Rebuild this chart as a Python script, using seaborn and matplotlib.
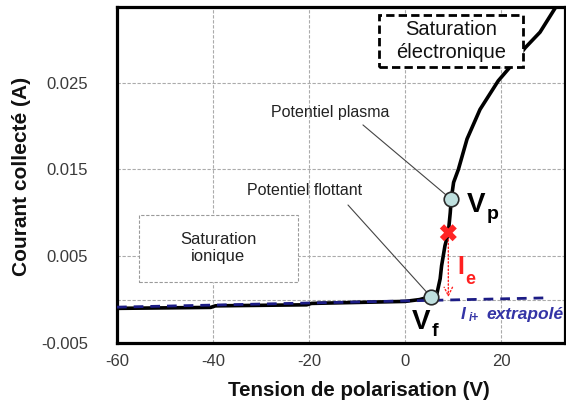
import matplotlib
matplotlib.use("Agg")
import matplotlib.pyplot as plt
from matplotlib.patches import Rectangle
import seaborn as sns
import pandas as pd

# Caractéristique I(V) de la sonde de Langmuir
tension = [-60, -40.5, -39.5, -20.5, -19.5, 0, 3, 5.2, 6.6, 7.3, 7.6, 8.3,
           9.0, 9.4, 9.6, 10.1, 11.1, 12.9, 15.6, 19.4, 22.5, 25.0, 28.1, 31.5]
courant = [-0.00101, -0.00090, -0.00072, -0.00060, -0.00044, -0.00021, 0.0000,
           0.00032, 0.00063, 0.0024, 0.0039, 0.0062, 0.0077, 0.0100, 0.01155,
           0.0135, 0.0150, 0.0185, 0.0219, 0.0252, 0.0272, 0.0290, 0.0308, 0.0338]

# Droite du courant ionique extrapolé
tension_ion = [-60, 29.6]
courant_ion = [-0.00087, 0.0002]

# Points remarquables
v_flottant, i_flottant = 5.4, 0.0003
v_plasma, i_plasma = 9.6, 0.01155
v_ie, i_ie = 9.0, 0.0077

xticks = [-60, -40, -20, 0, 20]
yticks = [-0.005, 0.005, 0.015, 0.025]
ygrid = [0.0, 0.005, 0.015, 0.025]
xgrid = [-40, -20, 0, 20]

sns.set_theme(style="white")
plt.rcParams["font.family"] = ["Liberation Sans", "DejaVu Sans"]
plt.rcParams["axes.unicode_minus"] = False

fig = plt.figure(figsize=(5.66, 4.05), dpi=100)
W, H = 566, 405
ax = fig.add_axes([117 / W, 1 - 343 / H, (565 - 117) / W, (343 - 7) / H])

# Quadrillage pointillé
for g in xgrid:
    ax.axvline(g, color="#ababab", lw=0.8, ls=(0, (3, 1.5)), zorder=0)
for g in ygrid:
    ax.axhline(g, color="#ababab", lw=0.8, ls=(0, (3, 1.5)), zorder=0)

df = pd.DataFrame({"V": tension, "I": courant})
sns.lineplot(data=df, x="V", y="I", sort=False, estimator=None, color="black",
             lw=2.6, ax=ax, zorder=3)
dfi = pd.DataFrame({"V": tension_ion, "I": courant_ion})
sns.lineplot(data=dfi, x="V", y="I", sort=False, estimator=None, color="#1c1c85",
             lw=2.0, linestyle=(0, (3.5, 2.5)), ax=ax, zorder=4)

# Flèche du courant électronique
ax.annotate("", xy=(v_ie, 0.00028), xytext=(v_ie, 0.0069),
            arrowprops=dict(arrowstyle="->,head_width=0.25,head_length=0.5",
                            color="#ff2020", lw=1.0, ls=":", shrinkA=0, shrinkB=0),
            zorder=5)
sns.scatterplot(x=[v_ie], y=[i_ie], marker="X", s=150, color="#ff2424",
                edgecolor="none", ax=ax, zorder=6)

# Traits de rappel
ax.annotate("", xy=(v_plasma, i_plasma), xytext=(0.549, 0.649),
            textcoords="axes fraction",
            arrowprops=dict(arrowstyle="-", color="#444444", lw=0.8,
                            shrinkA=0, shrinkB=5), zorder=5)
ax.annotate("", xy=(v_flottant, i_flottant), xytext=(0.5156, 0.4107),
            textcoords="axes fraction",
            arrowprops=dict(arrowstyle="-", color="#444444", lw=0.8,
                            shrinkA=0, shrinkB=5), zorder=5)

sns.scatterplot(x=[v_flottant, v_plasma], y=[i_flottant, i_plasma], s=110,
                color="#bfe0df", edgecolor="#2a2a2a", linewidth=1.2, ax=ax,
                zorder=7)

# Encadrés
ax.add_patch(Rectangle((0.585, 0.821), 0.321, 0.155, transform=ax.transAxes,
                       facecolor="white", edgecolor="black", lw=2.0,
                       ls=(0, (3, 1.5)), zorder=8))
ax.text(0.7455, 0.899, "Saturation\nélectronique", transform=ax.transAxes,
        ha="center", va="center", fontsize=14.5, linespacing=1.3,
        color="#111111", zorder=9)

ax.add_patch(Rectangle((0.049, 0.1815), 0.355, 0.1995, transform=ax.transAxes,
                       facecolor="white", edgecolor="#9a9a9a", lw=0.8,
                       ls=(0, (3, 1.5)), zorder=2))
ax.text(0.2254, 0.2827, "Saturation\nionique", transform=ax.transAxes,
        ha="center", va="center", fontsize=12, linespacing=1.15,
        color="#222222", zorder=3)

ax.text(0.344, 0.6875, "Potentiel plasma", transform=ax.transAxes,
        ha="left", va="center", fontsize=11.5, color="#222222")
ax.text(0.290, 0.455, "Potentiel flottant", transform=ax.transAxes,
        ha="left", va="center", fontsize=11.5, color="#222222")

# Étiquettes des potentiels
ax.text(12.9, 0.0101, "V", fontsize=20, fontweight="bold", ha="left",
        va="baseline", color="black")
ax.text(17.0, 0.0093, "p", fontsize=14, fontweight="bold", ha="left",
        va="baseline", color="black")
ax.text(1.4, -0.0034, "V", fontsize=20, fontweight="bold", ha="left",
        va="baseline", color="black")
ax.text(5.6, -0.0042, "f", fontsize=14, fontweight="bold", ha="left",
        va="baseline", color="black")

ax.text(10.8, 0.0029, "I", fontsize=18, fontweight="bold", ha="left",
        va="baseline", color="#ff2020")
ax.text(12.6, 0.0018, "e", fontsize=13, fontweight="bold", ha="left",
        va="baseline", color="#ff2020")

ax.text(11.5, -0.0022, "I", fontsize=12.5, fontweight="bold", style="italic",
        ha="left", va="baseline", color="#3434a6")
ax.text(13.3, -0.0025, "i+", fontsize=8.5, fontweight="bold", style="italic",
        ha="left", va="baseline", color="#3434a6")
ax.text(17.0, -0.0022, "extrapolé", fontsize=12.5, fontweight="bold",
        style="italic", ha="left", va="baseline", color="#3434a6")

ax.set_xlim(-60, 33.3)
ax.set_ylim(-0.005, 0.0337)
ax.set_xticks(xticks)
ax.set_xticklabels([f"{t:d}" for t in xticks])
ax.set_yticks(yticks)
ax.set_yticklabels([f"{t:.3f}" for t in yticks])
ax.tick_params(axis="both", length=0, labelsize=12, labelcolor="#3a3a3a")
ax.tick_params(axis="y", pad=21)
ax.tick_params(axis="x", pad=8)

for s in ax.spines.values():
    s.set_visible(True)
    s.set_color("black")
    s.set_linewidth(2.3)

ax.set_xlabel("Tension de polarisation (V)", fontsize=14.8, fontweight="bold",
              color="#111111")
ax.set_ylabel("Courant collecté (A)", fontsize=15, fontweight="bold",
              color="#111111")
ax.xaxis.set_label_coords(0.54, -0.113)
ax.yaxis.set_label_coords(-0.192, 0.497)

fig.savefig("out.png", dpi=100)
